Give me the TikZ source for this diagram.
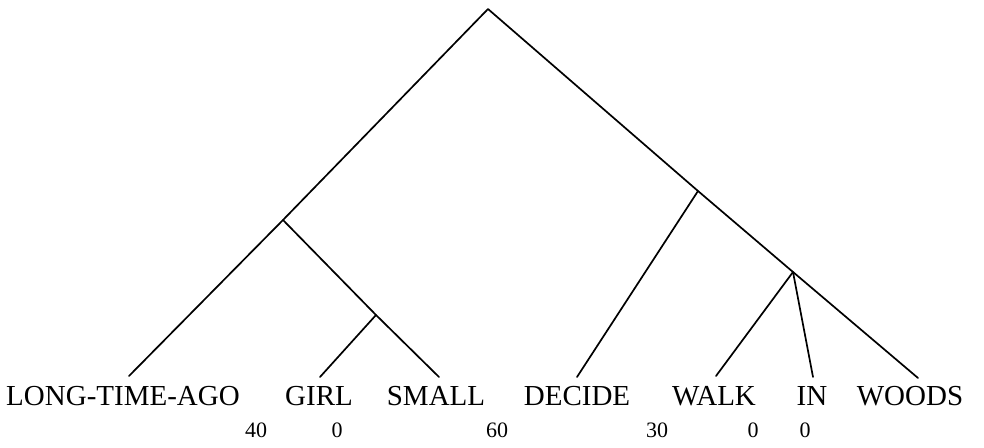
\documentclass[tikz,border=0pt]{standalone}
\usepackage{fontspec}
\setmainfont{Liberation Serif}
\begin{document}
\begin{tikzpicture}[x=1pt,y=-1pt,
  branch/.style={line width=1.7pt,line cap=round,line join=round},
  word/.style={anchor=base,inner sep=0pt,font=\fontsize{29}{30}\selectfont},
  num/.style={anchor=base,inner sep=0pt,font=\fontsize{22}{24}\selectfont}]
\useasboundingbox (0,0) rectangle (984,447);
% internal points
\coordinate (root) at (488,9);
\coordinate (A) at (283,220);
\coordinate (B) at (376,315);
\coordinate (C) at (698,191);
\coordinate (D) at (793,272);
% leaf ends
\coordinate (lLTA) at (129,376);
\coordinate (lGIRL) at (320,377);
\coordinate (lSMALL) at (439,377);
\coordinate (lDECIDE) at (577,377);
\coordinate (lWALK) at (716,376);
\coordinate (lIN) at (813,377);
\coordinate (lWOODS) at (918,378);
% branches
\draw[branch] (lLTA) -- (A) -- (root) -- (C) -- (D) -- (lWOODS);
\draw[branch] (A) -- (B) -- (lSMALL);
\draw[branch] (B) -- (lGIRL);
\draw[branch] (C) -- (lDECIDE);
\draw[branch] (D) -- (lWALK);
\draw[branch] (D) -- (lIN);
% words
\node[word] (wLTA) at (123,405) {LONG-TIME-AGO};
\node[word] (wGIRL) at (319,405) {GIRL};
\node[word] (wSMALL) at (436,405) {SMALL};
\node[word] (wDECIDE) at (577,405) {DECIDE};
\node[word] (wWALK) at (714,405) {WALK};
\node[word] (wIN) at (812,405) {IN};
\node[word] (wWOODS) at (910,405) {WOODS};
% numbers
\node[num] (n1) at (256,437) {40};
\node[num] (n2) at (337,437) {0};
\node[num] (n3) at (497,437) {60};
\node[num] (n4) at (657,437) {30};
\node[num] (n5) at (753,437) {0};
\node[num] (n6) at (805,437) {0};
\end{tikzpicture}
\end{document}
